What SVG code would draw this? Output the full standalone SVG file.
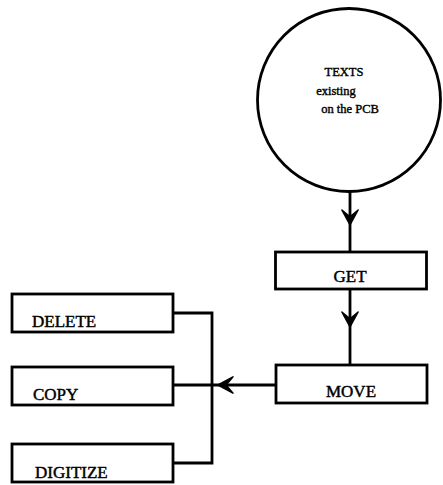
<svg xmlns="http://www.w3.org/2000/svg" width="443" height="485" viewBox="0 0 443 485">
<style>
.box{fill:#fff;stroke:#000;stroke-width:2.8}
.lbl{font-family:"Liberation Serif","Times New Roman",serif;font-size:17px;fill:#000;stroke:#000;stroke-width:0.45}
.ctext{font-family:"Liberation Serif","Times New Roman",serif;font-size:12.5px;fill:#000;stroke:#000;stroke-width:0.4;text-anchor:middle}
.conn{fill:none;stroke:#000;stroke-width:2.8}
</style>
<defs>
<marker id="arr" markerUnits="userSpaceOnUse" markerWidth="20" markerHeight="20" viewBox="-14 -8 16 16" refX="0" refY="0" orient="auto">
<path d="M0,0 L-12,-6.5 L-6.5,0 L-12,6.5 Z" fill="#000" stroke="#000" stroke-width="1.2" stroke-linejoin="round"/>
</marker>
</defs>
<g id="connectors">
<path class="conn" d="M350,191 L350,225 L350,252" marker-mid="url(#arr)"/>
<path class="conn" d="M350,289 L350,327 L350,365" marker-mid="url(#arr)"/>
<path class="conn" d="M276,385 L218,385 L173,385" marker-mid="url(#arr)"/>
<path class="conn" d="M173,313 L212,313 L212,463 L173,463"/>
</g>
<g id="texts-node">
<circle cx="349" cy="100" r="91.5" fill="#fff" stroke="#000" stroke-width="2.8"/>
<text class="ctext" x="344" y="76">TEXTS</text>
<text class="ctext" x="336" y="95">existing</text>
<text class="ctext" x="350" y="113">on the PCB</text>
</g>
<g id="get">
<rect class="box" x="275.5" y="252" width="151" height="37"/>
<text class="lbl" x="350" y="282" text-anchor="middle">GET</text>
</g>
<g id="move">
<rect class="box" x="276" y="365" width="151" height="38"/>
<text class="lbl" x="351" y="397" text-anchor="middle">MOVE</text>
</g>
<g id="delete">
<rect class="box" x="12" y="294" width="161" height="38"/>
<text class="lbl" x="32" y="327">DELETE</text>
</g>
<g id="copy">
<rect class="box" x="12" y="367" width="161" height="38"/>
<text class="lbl" x="33" y="400">COPY</text>
</g>
<g id="digitize">
<rect class="box" x="12" y="444" width="161" height="38"/>
<text class="lbl" x="35" y="478">DIGITIZE</text>
</g>
</svg>
